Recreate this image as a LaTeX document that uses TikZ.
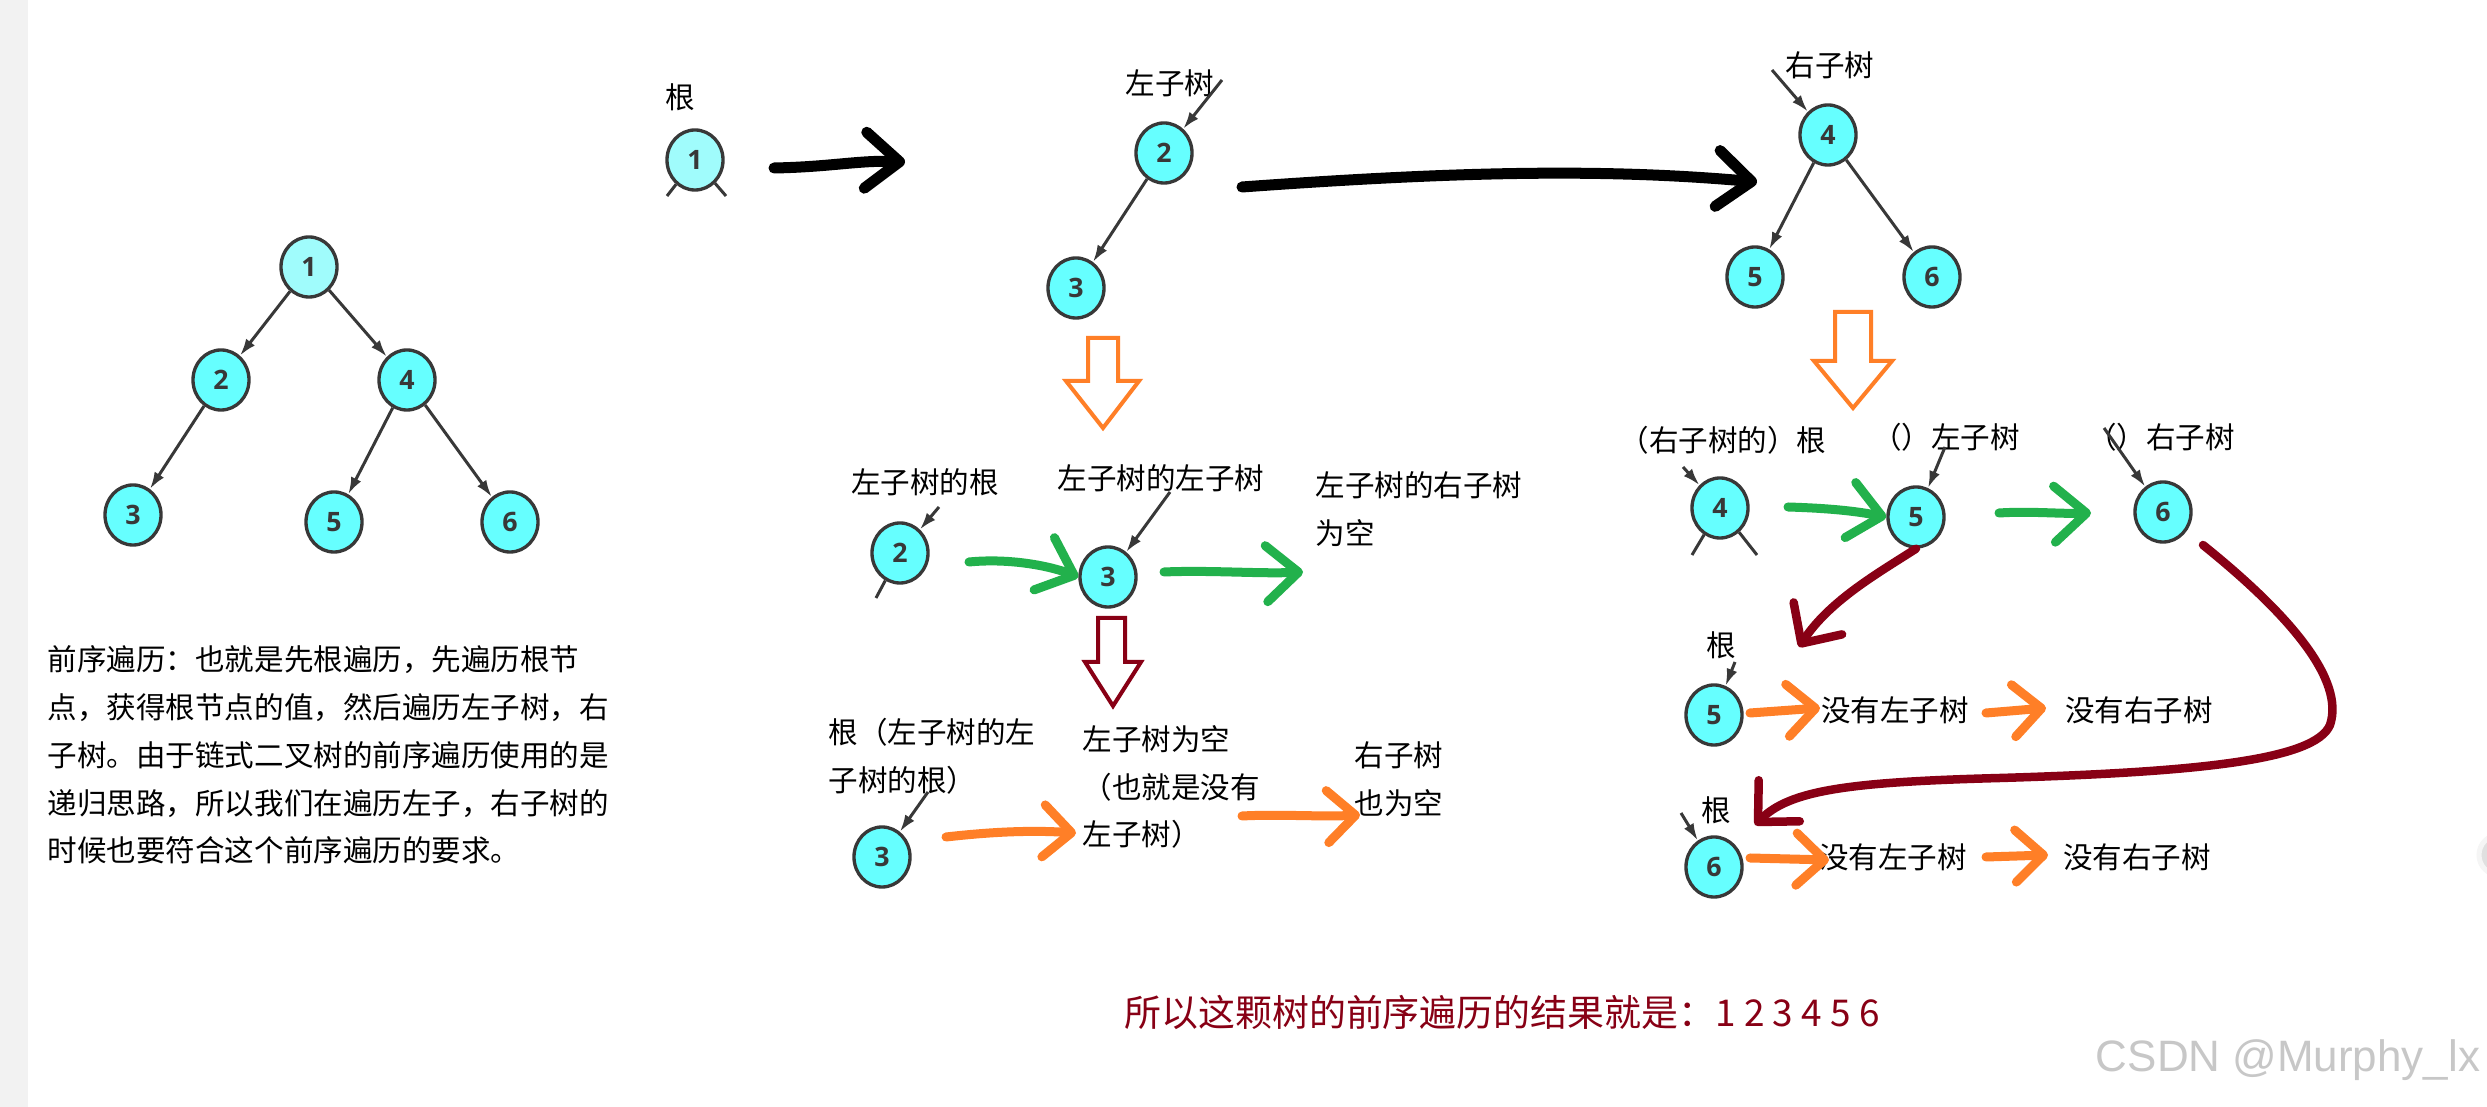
\documentclass[tikz,border=0pt]{standalone}
\usepackage{fontspec}
\setmainfont{Noto Sans CJK SC}
\newfontfamily\digitfont{Open Sans}
\newfontfamily\markfont{Liberation Sans}
\usepackage{tikz}
\usetikzlibrary{arrows.meta,shapes.geometric}
\definecolor{nodecyan}{HTML}{66FFFF}
\definecolor{rootcyan}{HTML}{A0FCFC}
\definecolor{penGreen}{HTML}{22B14C}
\definecolor{penOrange}{HTML}{FF7F27}
\definecolor{penRed}{HTML}{880015}
\definecolor{edgegray}{HTML}{383838}

\begin{document}
\begin{tikzpicture}[
    x=0.01cm, y=-0.01cm,
    every node/.style={font=\fontsize{8.4}{13.6}\selectfont, inner sep=0pt},
    txt/.style={align=left},
    bnode/.style={ellipse, draw=edgegray, line width=0.95pt, fill=nodecyan, minimum width=0.56cm, minimum height=0.6cm, inner sep=0pt, font=\digitfont\bfseries\fontsize{7.6}{7.6}\selectfont, text=edgegray},
    rootnode/.style={bnode, fill=rootcyan},
    edge/.style={draw=edgegray, line width=0.85pt, -{Latex[length=0.17cm,width=0.11cm]}},
    stub/.style={draw=edgegray, line width=0.85pt},
    pen/.style={line cap=round, line join=round},
    blackpen/.style={pen, draw=black, line width=0.11cm, -{Straight Barb[length=0.34cm,width=0.56cm,round]}},
    greenpen/.style={pen, draw=penGreen, line width=0.09cm, -{Straight Barb[length=0.32cm,width=0.56cm,round]}},
    orangepen/.style={pen, draw=penOrange, line width=0.09cm, -{Straight Barb[length=0.28cm,width=0.52cm,round]}},
    redpen/.style={pen, draw=penRed, line width=0.085cm, -{Straight Barb[length=0.3cm,width=0.58cm,round]}},
    hollow/.style={line width=0.04cm, line join=miter, fill=white}
]
\useasboundingbox (0,0) rectangle (2487,1107);
\fill[white] (0,0) rectangle (2487,1107);
\fill[black!5] (0,0) rectangle (28,1107);
\filldraw[fill=black!12, draw=black!4, line width=0.05cm] (2499,855) circle (0.2cm);

\node[rootnode] (t1) at (309,267) {1};
\node[bnode] (t2) at (221,380) {2};
\node[bnode] (t4) at (407,380) {4};
\node[bnode] (t3) at (133,515) {3};
\node[bnode] (t5) at (334,522) {5};
\node[bnode] (t6) at (510,522) {6};
\draw[edge] (t1) -- (t2);
\draw[edge] (t1) -- (t4);
\draw[edge] (t2) -- (t3);
\draw[edge] (t4) -- (t5);
\draw[edge] (t4) -- (t6);

\node[txt, anchor=west] (desc) at (47,755) {前序遍历：也就是先根遍历，先遍历根节\\点，获得根节点的值，然后遍历左子树，右\\子树。由于链式二叉树的前序遍历使用的是\\递归思路，所以我们在遍历左子，右子树的\\时候也要符合这个前序遍历的要求。};

\node (rootlbl) at (680,97) {根};
\node[rootnode] (r1) at (695,160) {1};
\coordinate (r1l) at (667,196);
\coordinate (r1r) at (726,196);
\draw[stub] (r1) -- (r1l);
\draw[stub] (r1) -- (r1r);
\coordinate (k1a) at (774,168);
\coordinate (k1b) at (905,162);
\draw[blackpen] (k1a) .. controls (830,167) and (860,160) .. (k1b);

\node (lslbl) at (1170,83) {左子树};
\node[bnode] (ls2) at (1164,153) {2};
\node[bnode] (ls3) at (1076,288) {3};
\coordinate (ls2in) at (1222,80);
\draw[edge] (ls2in) -- (ls2);
\draw[edge] (ls2) -- (ls3);
\coordinate (k2a) at (1242,187);
\coordinate (k2b) at (1757,182);
\draw[blackpen] (k2a) .. controls (1450,172) and (1600,168) .. (k2b);

\node (rslbl) at (1830,65) {右子树};
\node[bnode] (rs4) at (1828,135) {4};
\node[bnode] (rs5) at (1755,277) {5};
\node[bnode] (rs6) at (1932,277) {6};
\coordinate (rs4in) at (1772,70);
\draw[edge] (rs4in) -- (rs4);
\draw[edge] (rs4) -- (rs5);
\draw[edge] (rs4) -- (rs6);

\draw[hollow, draw=penOrange] (1088,338) -- (1118,338) -- (1118,381) -- (1139,381) -- (1103,428) -- (1066,381) -- (1088,381) -- cycle;
\draw[hollow, draw=penOrange] (1835,312) -- (1871,312) -- (1871,361) -- (1892,361) -- (1853,408) -- (1814,361) -- (1835,361) -- cycle;
\draw[hollow, draw=penRed] (1098,618) -- (1125,618) -- (1125,662) -- (1141,662) -- (1113,706) -- (1085,662) -- (1098,662) -- cycle;

\node (lrlbl) at (925,482) {左子树的根};
\node (lllbl) at (1161,478) {左子树的左子树};
\node[txt, anchor=west] (rtlbl) at (1315,509) {左子树的右子树\\为空};
\node[bnode] (lr2) at (900,553) {2};
\node[bnode] (lr3) at (1108,577) {3};
\coordinate (lr2in) at (939,507);
\coordinate (lr2out) at (876,598);
\coordinate (lr3in) at (1170,492);
\draw[edge] (lr2in) -- (lr2);
\draw[stub] (lr2) -- (lr2out);
\draw[edge] (lr3in) -- (lr3);
\coordinate (g1a) at (969,562);
\coordinate (g2a) at (1164,572);
\coordinate (g2b) at (1303,572);
\draw[greenpen] (g1a) .. controls (1010,558) and (1050,566) .. (lr3.west);
\draw[greenpen] (g2a) .. controls (1210,570) and (1260,574) .. (g2b);

\node[txt, anchor=west] (lllbl2) at (828,756) {根（左子树的左\\子树的根）};
\node[bnode] (ll3) at (882,857) {3};
\coordinate (ll3in) at (928,792);
\draw[edge] (ll3in) -- (ll3);
\node[txt, anchor=west] (emptyl) at (1082,787) {左子树为空\\（也就是没有\\左子树）};
\node[txt, anchor=west] (emptyr) at (1354,779) {右子树\\也为空};
\coordinate (o1a) at (946,837);
\coordinate (o1b) at (1076,833);
\coordinate (o2a) at (1242,816);
\coordinate (o2b) at (1360,815);
\draw[orangepen] (o1a) .. controls (990,832) and (1030,830) .. (o1b);
\draw[orangepen] (o2a) .. controls (1280,814) and (1320,817) .. (o2b);

\node (rrlbl) at (1723,440) {（右子树的）根};
\node (rr5lbl) at (1946,437) {（）左子树};
\node (rr6lbl) at (2161,437) {（）右子树};
\node[bnode] (rr4) at (1720,508) {4};
\node[bnode] (rr5) at (1916,517) {5};
\node[bnode] (rr6) at (2163,512) {6};
\coordinate (rr4in) at (1683,467);
\coordinate (rr4l) at (1692,555);
\coordinate (rr4r) at (1757,555);
\coordinate (rr5in) at (1945,447);
\coordinate (rr6in) at (2104,428);
\draw[edge] (rr4in) -- (rr4);
\draw[stub] (rr4) -- (rr4l);
\draw[stub] (rr4) -- (rr4r);
\draw[edge] (rr5in) -- (rr5);
\draw[edge] (rr6in) -- (rr6);
\coordinate (g3a) at (1788,507);
\coordinate (g4a) at (1999,513);
\coordinate (g4b) at (2091,513);
\draw[greenpen] (g3a) .. controls (1820,508) and (1850,510) .. (rr5.west);
\draw[greenpen] (g4a) .. controls (2030,511) and (2060,514) .. (g4b);

\node (h5lbl) at (1721,645) {根};
\node[bnode] (h5) at (1714,715) {5};
\coordinate (h5in) at (1735,662);
\draw[edge] (h5in) -- (h5);
\node (h5l) at (1895,710) {没有左子树};
\node (h5r) at (2139,710) {没有右子树};
\coordinate (o3a) at (1750,713);
\coordinate (o3b) at (1820,708);
\coordinate (o4a) at (1986,713);
\coordinate (o4b) at (2046,708);
\draw[orangepen] (o3a) -- (o3b);
\draw[orangepen] (o4a) -- (o4b);

\node (h6lbl) at (1716,810) {根};
\node[bnode] (h6) at (1714,867) {6};
\coordinate (h6in) at (1681,813);
\draw[edge] (h6in) -- (h6);
\node (h6l) at (1893,857) {没有左子树};
\node (h6r) at (2137,857) {没有右子树};
\coordinate (o5a) at (1750,858);
\coordinate (o5b) at (1829,860);
\coordinate (o6a) at (1986,857);
\coordinate (o6b) at (2048,855);
\draw[orangepen] (o5a) -- (o5b);
\draw[orangepen] (o6a) -- (o6b);

\coordinate (c1b) at (1799,647);
\coordinate (c2a) at (2203,545);
\coordinate (c2b) at (1755,825);
\draw[redpen] (rr5.south) .. controls (1880,572) and (1830,600) .. (c1b);
\draw[redpen] (c2a) .. controls (2290,615) and (2345,680) .. (2330,725) .. controls (2315,760) and (2200,772) .. (2000,778) .. controls (1850,782) and (1790,790) .. (c2b);

\node[text=penRed, font=\fontsize{10.5}{12}\selectfont] (result) at (1502,1012) {所以这颗树的前序遍历的结果就是：1 2 3 4 5 6};
\node[text=black!22, font=\markfont\fontsize{12.5}{14}\selectfont] (mark) at (2288,1060) {CSDN @Murphy\_lx};
\end{tikzpicture}
\end{document}
